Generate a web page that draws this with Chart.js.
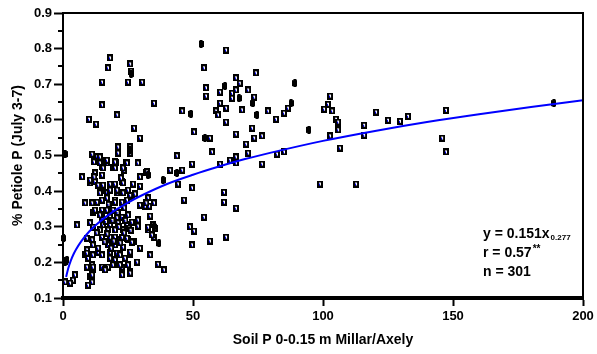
<!DOCTYPE html>
<html>
<head>
<meta charset="utf-8">
<script src="https://cdn.jsdelivr.net/npm/chart.js@4.4.1/dist/chart.umd.min.js"></script>
<style>
  html, body { margin: 0; padding: 0; background: #fff; }
  canvas { display: block; }
</style>
</head>
<body>
<canvas id="grafico" width="597" height="354"></canvas>
<script>
// puntos [P suelo, % P peciolo]
const puntosArriba = [[18.1,0.774],[17.3,0.746],[25.8,0.757],[26.2,0.737],[15.0,0.706],[25.0,0.706],[30.4,0.706],[15.0,0.642],
  [35.0,0.647],[10.0,0.602],[12.7,0.588],[20.8,0.614],[27.3,0.577],[29.6,0.549],[45.8,0.625],[50.4,0.566],[21.2,0.524],
  [21.2,0.507],[25.8,0.524],[25.8,0.507],[11.2,0.504],[43.8,0.499],[49.6,0.476],[45.8,0.459],[41.2,0.459],[28.8,0.479],
  [24.2,0.479],[20.4,0.479],[19.2,0.465],[23.5,0.459],[16.2,0.485],[13.1,0.496]];

const puntosDerecha = [[62.7,0.796],[54.2,0.746],[66.5,0.718],[74.2,0.732],[55.0,0.690],[55.0,0.667],[60.4,0.678],[65.0,0.675],
  [65.0,0.661],[66.5,0.684],[68.0,0.703],[71.2,0.684],[73.5,0.664],[60.4,0.647],[62.7,0.633],[58.8,0.625],[59.6,0.614],
  [68.8,0.628],[78.8,0.625],[81.9,0.602],[85.0,0.619],[86.5,0.633],[62.7,0.594],[56.5,0.549],[66.5,0.560],[72.7,0.577],
  [76.5,0.555],[73.5,0.549],[70.4,0.532],[71.2,0.507],[57.3,0.510],[64.2,0.487],[66.5,0.496],[66.5,0.479],[60.4,0.476],
  [76.5,0.476],[82.3,0.504],[85.0,0.510]];

const puntosLejos = [[102.7,0.667],[101.9,0.644],[100.4,0.630],[103.5,0.625],[105.0,0.602],[105.8,0.594],[105.8,0.572],
  [102.7,0.555],[106.5,0.521],[120.4,0.622],[115.8,0.585],[115.8,0.557],[98.8,0.420],[112.7,0.420],[125.0,0.599],
  [129.6,0.596],[132.7,0.610],[147.3,0.627],[145.8,0.549],[147.3,0.510]];

const puntosMedio = [[49.6,0.409],[61.9,0.397],[61.9,0.369],[66.5,0.352],[46.5,0.375],[54.2,0.327],[48.8,0.300],[50.4,0.288],
  [56.5,0.260],[62.7,0.271],[49.6,0.249],[31.9,0.451],[44.2,0.420],[26.9,0.420],[29.6,0.414],[26.5,0.386],[32.7,0.381],
  [35.0,0.367],[29.6,0.361],[31.5,0.358],[33.1,0.358],[33.5,0.330],[26.5,0.313],[28.8,0.302],[35.4,0.296],[32.7,0.291],
  [35.0,0.271],[27.3,0.260],[29.6,0.240],[25.8,0.223],[33.5,0.221],[28.5,0.201],[36.5,0.195],[38.8,0.179],[25.8,0.173],
  [27.7,0.392],[32.0,0.367],[34.6,0.305],[32.3,0.454],[29.6,0.440]];

const puntosDensos = [[13.1,0.482],[15.0,0.468],[16.9,0.479],[20.0,0.482],[24.6,0.479],[20.0,0.465],[23.1,0.465],[7.3,0.440],
  [12.3,0.451],[15.0,0.445],[10.4,0.423],[12.3,0.426],[13.5,0.417],[18.1,0.420],[20.0,0.420],[22.7,0.428],[15.0,0.403],
  [16.9,0.395],[20.8,0.395],[23.1,0.395],[25.8,0.389],[8.5,0.367],[11.2,0.367],[13.1,0.369],[15.0,0.375],[20.0,0.375],
  [22.7,0.369],[11.5,0.341],[15.0,0.347],[16.9,0.347],[15.0,0.325],[18.1,0.327],[20.8,0.325],[22.7,0.327],[5.4,0.305],
  [10.4,0.311],[15.4,0.305],[18.1,0.305],[21.2,0.311],[24.6,0.305],[25.4,0.296],[14.2,0.291],[17.3,0.291],[20.0,0.291],
  [23.1,0.291],[9.2,0.268],[11.2,0.263],[15.0,0.271],[18.8,0.271],[20.8,0.263],[22.7,0.271],[25.0,0.263],[11.5,0.249],
  [17.3,0.249],[20.0,0.249],[23.1,0.243],[9.2,0.235],[13.5,0.229],[11.5,0.221],[18.1,0.229],[20.8,0.226],[25.8,0.229],
  [8.5,0.221],[9.6,0.212],[18.1,0.212],[20.0,0.207],[23.8,0.212],[9.2,0.187],[11.2,0.193],[15.0,0.187],[17.3,0.187],
  [20.0,0.193],[22.7,0.187],[25.0,0.193],[11.5,0.179],[16.2,0.179],[22.7,0.165],[25.8,0.170],[4.6,0.165],[3.8,0.150],
  [0.8,0.145],[2.7,0.142],[10.4,0.159],[11.2,0.145],[9.6,0.136]];

const puntosExtra = [[11.9,0.482],[15.4,0.417],[23.1,0.423],[18.1,0.403],[20.8,0.403],[25.0,0.403],[14.2,0.395],[16.9,0.381],
  [20.0,0.369],[24.6,0.375],[12.3,0.347],[14.2,0.333],[19.2,0.347],[25.0,0.333],[28.8,0.319],[32.7,0.299],[11.5,0.299],
  [18.1,0.271],[20.0,0.271],[24.6,0.268],[26.5,0.257],[34.2,0.277],[9.2,0.226],[13.5,0.240],[15.0,0.221],[21.9,0.221],
  [11.5,0.187],[19.2,0.193],[21.9,0.193],[11.2,0.165],[14.2,0.496],[14.2,0.479],[15.4,0.465],[16.9,0.487],[22.3,0.437],
  [10.4,0.431],[12.0,0.440],[16.5,0.315],[19.0,0.318],[21.5,0.300],[23.5,0.283],[17.0,0.280],[19.5,0.260],[22.0,0.255],
  [16.0,0.258],[24.0,0.318],[13.0,0.283],[26.0,0.290],[18.5,0.240],[21.0,0.340],[23.5,0.353],[17.5,0.363]];

// puntos que salen rellenos en negro
const puntosNegros = [[53.1,0.813],[89.2,0.703],[62.3,0.695],[67.7,0.661],[73.0,0.647],[74.6,0.614],[87.7,0.647],[54.6,0.549],
  [94.6,0.572],[49.2,0.617],[0.8,0.504],[32.7,0.445],[43.8,0.451],[38.5,0.431],[35.0,0.300],[36.9,0.254],[0.2,0.268],
  [0.8,0.201],[1.5,0.207],[188.8,0.647],[26.2,0.729],[25.8,0.515]];

// curva ajustada
const curvaX = [1.2, 2, 3, 4, 5, 7, 10, 13, 16, 20, 25, 30, 40, 50, 60, 70, 80, 100, 120, 140, 160, 180, 200];
const curvaY = [0.159, 0.183, 0.205, 0.222, 0.236, 0.259, 0.286, 0.307, 0.325, 0.346, 0.368, 0.387, 0.420, 0.446,
  0.469, 0.490, 0.508, 0.541, 0.569, 0.594, 0.616, 0.636, 0.655];

const ticksY = [0.1, 0.2, 0.3, 0.4, 0.5, 0.6, 0.7, 0.8, 0.9];
const ticksX = [0, 50, 100, 150, 200];

const fuente = '"Liberation Sans", Arial, sans-serif';

// marcador: cuadradito negro con centro blanco y punto azul
function marcadorAbierto() {
  const c = document.createElement('canvas');
  c.width = 6; c.height = 7;
  const g = c.getContext('2d');
  g.fillStyle = '#000'; g.fillRect(0, 0, 6, 7);
  g.fillStyle = '#fff'; g.fillRect(2, 2, 2, 3);
  g.fillStyle = '#0000ff'; g.fillRect(2, 3, 1, 2);
  return c;
}
function marcadorNegro() {
  const c = document.createElement('canvas');
  c.width = 5; c.height = 8;
  const g = c.getContext('2d');
  g.fillStyle = '#000';
  g.fillRect(1, 0, 3, 8);
  g.fillRect(0, 1, 5, 6);
  return c;
}

const aPuntos = lista => lista.map(p => ({ x: p[0], y: p[1] }));
const abiertos = [].concat(puntosArriba, puntosDerecha, puntosLejos, puntosMedio, puntosDensos, puntosExtra);

// ticks menores del eje y, marco de arriba/derecha y la ecuacion
const extras = {
  id: 'extras',
  afterDraw(chart) {
    const ctx = chart.ctx;
    const a = chart.chartArea;
    const sy = chart.scales.y;
    ctx.save();
    ctx.strokeStyle = '#000';
    ctx.lineWidth = 2;
    ctx.beginPath();
    for (let i = 0; i < ticksY.length - 1; i++) {
      const v = (ticksY[i] + ticksY[i + 1]) / 2;
      const py = Math.round(sy.getPixelForValue(v));
      ctx.moveTo(a.left - 5, py);
      ctx.lineTo(a.left, py);
    }
    ctx.moveTo(a.left, a.top);
    ctx.lineTo(a.right, a.top);
    ctx.lineTo(a.right, a.bottom);
    ctx.stroke();

    ctx.fillStyle = '#000';
    ctx.textBaseline = 'middle';
    ctx.textAlign = 'left';
    const x0 = 483;
    ctx.font = 'bold 14px ' + fuente;
    ctx.fillText('y = 0.151x', x0, 234);
    let w = ctx.measureText('y = 0.151x').width;
    ctx.font = 'bold 8px ' + fuente;
    ctx.fillText('0.277', x0 + w + 1, 238);
    ctx.font = 'bold 14px ' + fuente;
    ctx.fillText('r = 0.57', x0, 253);
    w = ctx.measureText('r = 0.57').width;
    ctx.font = 'bold 10px ' + fuente;
    ctx.fillText('**', x0 + w + 1, 249);
    ctx.font = 'bold 14px ' + fuente;
    ctx.fillText('n = 301', x0, 272);
    ctx.restore();
  }
};

const ctx = document.getElementById('grafico').getContext('2d');
const grafico = new Chart(ctx, {
  type: 'scatter',
  data: {
    datasets: [
      {
        type: 'line',
        data: curvaX.map((x, i) => ({ x: x, y: curvaY[i] })),
        borderColor: '#0000ff',
        borderWidth: 2,
        pointRadius: 0,
        tension: 0.4,
        cubicInterpolationMode: 'monotone',
        fill: false,
        order: 0
      },
      {
        data: aPuntos(abiertos),
        pointStyle: marcadorAbierto(),
        pointRadius: 3,
        clip: false,
        order: 2
      },
      {
        data: aPuntos(puntosNegros),
        pointStyle: marcadorNegro(),
        pointRadius: 3,
        clip: false,
        order: 1
      }
    ]
  },
  options: {
    responsive: false,
    animation: false,
    devicePixelRatio: 1,
    layout: { padding: { top: 13, right: 14, left: 0, bottom: 0 } },
    plugins: { legend: { display: false }, tooltip: { enabled: false } },
    scales: {
      x: {
        type: 'linear',
        min: 0,
        max: 200,
        afterBuildTicks: s => { s.ticks = ticksX.map(v => ({ value: v })); },
        afterFit: s => { s.height = 56; },
        ticks: {
          color: '#000',
          padding: 3,
          maxRotation: 0,
          font: { family: fuente, size: 13, weight: 'bold' }
        },
        grid: { drawOnChartArea: false, drawTicks: true, tickLength: 8, tickWidth: 2, tickColor: '#000' },
        border: { display: true, color: '#000', width: 4 },
        title: {
          display: true,
          text: 'Soil P 0-0.15 m Millar/Axely',
          color: '#000',
          font: { family: fuente, size: 14, weight: 'bold' },
          padding: { top: 0, bottom: 5 }
        }
      },
      y: {
        min: 0.1,
        max: 0.9,
        afterBuildTicks: s => { s.ticks = ticksY.map(v => ({ value: v })); },
        afterFit: s => { s.width = 63; },
        ticks: {
          color: '#000',
          padding: 2,
          callback: v => v.toFixed(1),
          font: { family: fuente, size: 13, weight: 'bold' }
        },
        grid: { drawOnChartArea: false, drawTicks: true, tickLength: 9, tickWidth: 2, tickColor: '#000' },
        border: { display: true, color: '#000', width: 2 },
        title: {
          display: true,
          text: '% Petiole P (July 3-7)',
          color: '#000',
          font: { family: fuente, size: 14, weight: 'bold' },
          padding: { top: 10, bottom: 0 }
        }
      }
    }
  },
  plugins: [extras]
});
</script>
</body>
</html>
